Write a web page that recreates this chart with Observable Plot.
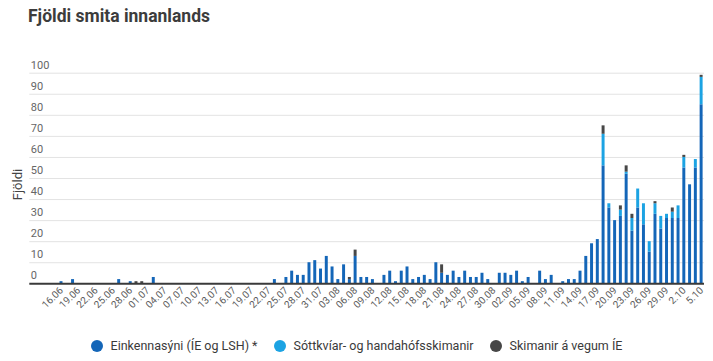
<!DOCTYPE html>
<html><head><meta charset="utf-8">
<script src="https://cdn.jsdelivr.net/npm/d3@7"></script>
<script src="https://cdn.jsdelivr.net/npm/@observablehq/plot@0.6"></script>
<style>
body{margin:0;background:#fff;font-family:Roboto,"Noto Sans",sans-serif;}
#wrap{position:relative;width:713px;height:361px;overflow:hidden;background:#fff;}
#title{position:absolute;left:28px;top:6px;font-size:17.5px;font-weight:700;color:#3c3c3c;white-space:nowrap;}
#chart{position:absolute;left:0;top:0;}
#legend{position:absolute;left:0;width:713px;top:338px;display:flex;justify-content:center;align-items:center;font-size:12.5px;color:#3a3a3a;}
.item{display:flex;align-items:center;margin:0 8px;white-space:nowrap;}
.dot{width:12px;height:12px;border-radius:50%;margin-right:8px;}
</style></head>
<body>
<div id="wrap">
  <div id="title">Fjöldi smita innanlands</div>
  <div id="chart"></div>
  <div id="legend"></div>
</div>
<script>
const seriesNames = ["Einkennasýni (ÍE og LSH) *", "Sóttkvíar- og handahófsskimanir", "Skimanir á vegum ÍE"];
const seriesColors = ["#1466b8", "#1ca3e3", "#474747"];

const dates = ["16.06","18.06","26.06","28.06","29.06","30.06","02.07","23.07","25.07","26.07","27.07","28.07","29.07","30.07","31.07",
  "01.08","02.08","03.08","04.08","05.08","06.08","07.08","08.08","09.08","11.08","12.08","13.08","14.08","15.08","16.08","17.08","18.08","19.08","20.08","21.08","22.08","23.08","24.08","25.08","26.08","27.08","28.08","29.08","31.08",
  "01.09","02.09","03.09","04.09","05.09","07.09","08.09","09.09","11.09","12.09","13.09","14.09","15.09","16.09","17.09","18.09","19.09","20.09","21.09","22.09","23.09","24.09","25.09","26.09","27.09","28.09","29.09","30.09",
  "01.10","02.10","03.10","04.10","05.10"];
const einkenna = [1,2,2,1,0,0,3,2,3,6,4,4,10,11,7,
  13,8,2,9,2,13,3,3,2,4,6,1,6,8,2,3,4,2,10,5,4,6,3,6,3,3,5,2,5,
  5,4,6,1,3,6,2,4,1,2,2,6,13,19,21,56,36,30,32,52,25,36,28,15,33,26,31,31,
  31,55,47,55,85];
const sottkvi = [0,0,0,0,0,0,0,0,0,0,0,0,0,0,0,
  0,0,0,0,0,0,0,0,0,0,0,0,0,0,0,0,0,0,0,0,0,0,0,0,0,0,0,0,0,
  0,0,0,0,0,0,0,0,0,0,0,0,0,0,0,15,2,0,3,1,6,9,10,5,5,6,2,3,
  6,5,0,4,13];
const ie = [0,0,0,0,1,1,0,0,0,0,0,0,0,0,0,
  0,0,0,0,1,3,0,0,0,0,0,0,0,0,0,0,0,0,0,4,0,0,0,0,0,0,0,0,0,
  0,0,0,0,0,0,0,0,0,0,0,0,0,0,0,4,0,0,2,3,2,0,0,0,1,0,0,2,
  0,1,0,0,1];
const tickLabels = ["16.06","19.06","22.06","25.06","28.06","01.07","04.07","07.07","10.07","13.07","16.07","19.07","22.07","25.07","28.07","31.07",
  "03.08","06.08","09.08","12.08","15.08","18.08","21.08","24.08","27.08","30.08","02.09","05.09","08.09","11.09","14.09","17.09","20.09","23.09","26.09","29.09","2.10","5.10"];
const yTicks = [0,10,20,30,40,50,60,70,80,90,100];
const yAxisTitle = "Fjöldi";
const year = 2020;

const parse = (s, h = 0) => { const [d, m] = s.split(".").map(Number); return new Date(Date.UTC(year, m - 1, d, h)); };

const rows = [];
const seriesVals = [einkenna, sottkvi, ie];
dates.forEach((s, i) => {
  seriesVals.forEach((arr, k) => {
    if (arr[i] > 0) rows.push({date: parse(s), value: arr[i], series: seriesNames[k]});
  });
});
const tickDates = tickLabels.map(s => parse(s, 12));
const tickMap = new Map(tickDates.map((d, i) => [+d, tickLabels[i]]));

const chart = Plot.plot({
  width: 713, height: 325,
  marginLeft: 29.3, marginRight: 9, marginTop: 72.7, marginBottom: 41.7,
  style: {fontFamily: "Roboto, 'Noto Sans', sans-serif", background: "transparent"},
  x: {type: "utc", domain: [parse("11.06"), parse("06.10")]},
  y: {domain: [0, 100], axis: null},
  color: {domain: seriesNames, range: seriesColors},
  marks: [
    Plot.ruleY(yTicks.filter(d => d > 0), {stroke: "#e3e3e3", strokeWidth: 1}),
    Plot.rectY(rows, {x: "date", y: "value", fill: "series", interval: "day", insetLeft: 1.4, insetRight: 1.4}),
    Plot.ruleY([0], {stroke: "#3a3a3a", strokeWidth: 2}),
    Plot.text(yTicks, {y: d => d, frameAnchor: "left", textAnchor: "start", dx: 1, dy: -8, text: d => String(d), fill: "#666", fontSize: 11}),
    Plot.text([yAxisTitle], {frameAnchor: "left", dx: -12, y: () => 50, dy: 6, text: d => d, rotate: -90, fill: "#444", fontSize: 13, textAnchor: "middle"}),
    Plot.axisX({ticks: tickDates, tickFormat: d => tickMap.get(+d), tickRotate: -45, tickSize: 0, tickPadding: 5, fontSize: 10, color: "#5a5a5a", label: null})
  ]
});
document.getElementById("chart").appendChild(chart);

const legend = document.getElementById("legend");
seriesNames.forEach((n, i) => {
  const it = document.createElement("div"); it.className = "item";
  const dot = document.createElement("span"); dot.className = "dot"; dot.style.background = seriesColors[i];
  const t = document.createElement("span"); t.textContent = n;
  it.appendChild(dot); it.appendChild(t); legend.appendChild(it);
});
</script>
</body></html>
